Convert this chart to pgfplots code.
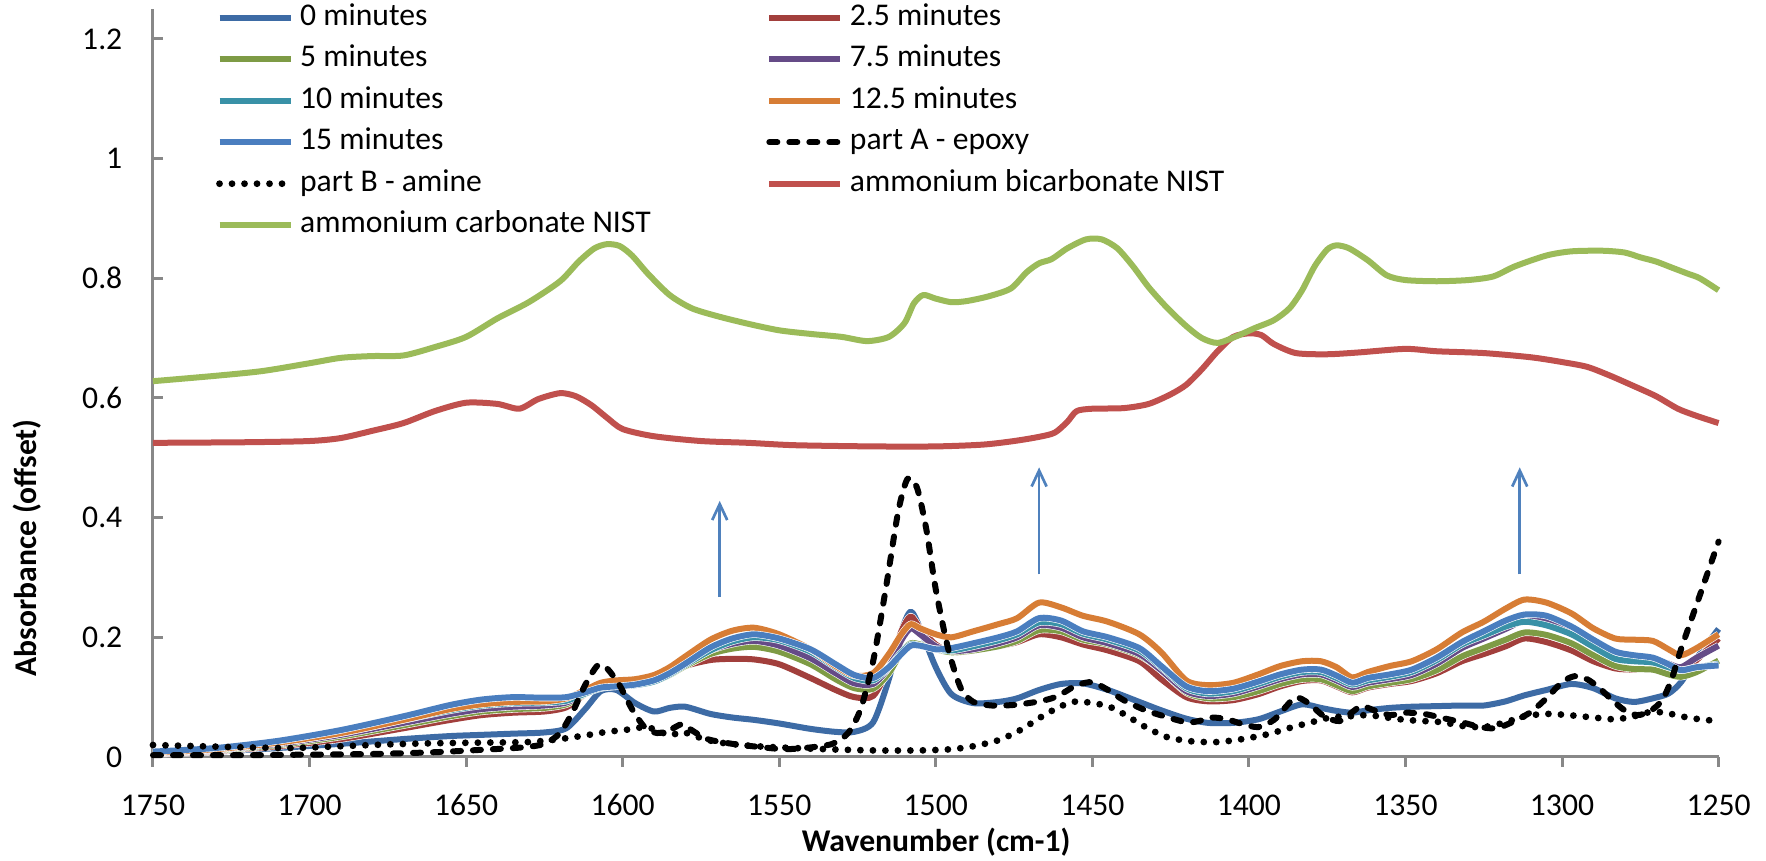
\documentclass[border=0pt]{standalone}
\usepackage{fontspec}
\setmainfont{Carlito}
\usepackage{pgfplots}
\usepackage{pgfplotstable}
\pgfplotsset{compat=1.18}
\usetikzlibrary{arrows.meta}

\definecolor{cT0}{HTML}{3D6BA5}
\definecolor{cT25}{HTML}{A23F3C}
\definecolor{cT5}{HTML}{7E9B45}
\definecolor{cT75}{HTML}{654B87}
\definecolor{cT10}{HTML}{3991A7}
\definecolor{cT125}{HTML}{D77D35}
\definecolor{cT15}{HTML}{4A7EBF}
\definecolor{cBicarb}{HTML}{C0504D}
\definecolor{cCarb}{HTML}{9BBB59}
\definecolor{axisgray}{HTML}{888888}
\definecolor{arrowblue}{HTML}{4F81BD}

% cure series: wavenumber, absorbance after 0 ... 15 minutes
\pgfplotstableread{
wn    t0    t25   t5    t75   t10   t125  t15
1750  .005  .005  .006  .006  .007  .007  .009
1730  .009  .010  .011  .012  .013  .013  .015
1710  .015  .018  .020  .022  .024  .024  .027
1690  .022  .030  .034  .037  .040  .040  .045
1670  .030  .048  .053  .057  .062  .062  .068
1655  .035  .062  .068  .072  .078  .080  .087
1645  .037  .070  .076  .080  .086  .088  .096
1635  .039  .074  .080  .084  .090  .092  .100
1625  .041  .076  .082  .086  .091  .093  .099
1618  .048  .083  .088  .091  .094  .098  .100
1612  .080  .105  .105  .106  .106  .112  .108
1607  .110  .122  .118  .117  .115  .124  .116
1602  .112  .126  .121  .121  .118  .128  .118
1596  .090  .124  .121  .122  .120  .130  .121
1590  .076  .127  .126  .128  .126  .137  .128
1585  .082  .138  .137  .140  .138  .150  .140
1580  .084  .152  .152  .156  .154  .168  .156
1572  .072  .162  .172  .178  .178  .196  .183
1565  .066  .164  .181  .189  .193  .211  .198
1558  .062  .163  .184  .194  .200  .216  .205
1550  .056  .155  .176  .186  .195  .205  .198
1540  .047  .132  .155  .165  .176  .180  .180
1532  .042  .112  .130  .140  .150  .152  .155
1526  .042  .100  .115  .123  .132  .136  .137
1520  .058  .102  .114  .122  .128  .140  .132
1515  .130  .150  .140  .150  .150  .172  .150
1511  .210  .210  .175  .195  .175  .205  .172
1508  .243  .235  .190  .215  .188  .222  .186
1505  .215  .215  .188  .205  .186  .215  .186
1500  .150  .188  .180  .185  .180  .205  .180
1495  .105  .175  .175  .177  .178  .200  .182
1488  .090  .178  .178  .180  .185  .210  .190
1480  .092  .185  .185  .190  .195  .222  .200
1474  .098  .192  .194  .200  .205  .232  .210
1467  .112  .205  .212  .220  .225  .258  .232
1460  .122  .200  .210  .216  .222  .250  .228
1453  .123  .188  .196  .200  .206  .236  .210
1445  .112  .178  .188  .190  .196  .226  .200
1435  .092  .160  .170  .172  .178  .205  .182
1428  .078  .130  .145  .145  .150  .175  .152
1420  .064  .100  .108  .110  .115  .128  .118
1413  .057  .093  .098  .102  .106  .120  .110
1405  .057  .095  .100  .106  .110  .124  .114
1397  .063  .105  .110  .118  .122  .138  .126
1390  .076  .118  .122  .130  .134  .152  .138
1383  .088  .127  .130  .138  .142  .160  .146
1377  .082  .128  .130  .138  .142  .160  .146
1372  .077  .118  .120  .128  .132  .150  .136
1367  .074  .108  .110  .117  .121  .133  .124
1362  .078  .116  .118  .124  .128  .142  .132
1355  .082  .122  .124  .130  .134  .152  .138
1348  .084  .127  .130  .137  .142  .160  .146
1340  .085  .140  .145  .156  .162  .180  .166
1332  .086  .160  .168  .182  .188  .208  .192
1325  .086  .172  .182  .198  .203  .226  .210
1318  .093  .185  .196  .214  .218  .248  .228
1312  .103  .198  .208  .228  .226  .263  .238
1305  .112  .192  .204  .226  .220  .258  .236
1297  .122  .178  .190  .212  .205  .240  .218
1290  .115  .160  .170  .192  .184  .215  .196
1283  .098  .148  .152  .172  .164  .198  .176
1277  .092  .146  .147  .166  .160  .196  .170
1271  .098  .146  .146  .164  .158  .194  .166
1266  .106  .140  .138  .156  .150  .180  .155
1262  .125  .140  .134  .150  .145  .170  .145
1257  .165  .162  .142  .166  .150  .182  .150
1250  .214  .198  .161  .186  .155  .205  .153
}\cureTable

% part A - epoxy
\pgfplotstableread{
wn y
1750 .003
1720 .003
1700 .004
1680 .005
1660 .008
1645 .012
1632 .016
1625 .022
1620 .040
1616 .075
1612 .120
1608 .153
1605 .148
1601 .120
1597 .080
1593 .050
1589 .040
1585 .045
1581 .055
1578 .045
1573 .030
1565 .022
1555 .016
1548 .013
1540 .016
1533 .022
1528 .040
1524 .080
1520 .160
1516 .280
1512 .410
1509 .465
1506 .450
1503 .380
1500 .280
1496 .180
1492 .115
1488 .092
1482 .086
1475 .087
1468 .092
1463 .098
1459 .108
1455 .120
1450 .125
1445 .112
1440 .095
1433 .078
1427 .068
1420 .058
1416 .060
1412 .066
1407 .063
1402 .055
1397 .050
1392 .062
1388 .085
1385 .100
1381 .090
1376 .068
1371 .060
1367 .075
1364 .085
1360 .078
1355 .070
1350 .074
1344 .072
1338 .065
1332 .058
1326 .050
1321 .048
1316 .058
1310 .075
1305 .098
1300 .125
1296 .135
1292 .130
1288 .115
1284 .095
1280 .078
1276 .070
1272 .076
1268 .095
1265 .130
1262 .180
1258 .240
1254 .300
1250 .360
}\epoxyTable

% part B - amine
\pgfplotstableread{
wn y
1750 .020
1735 .018
1720 .016
1705 .015
1690 .018
1675 .021
1660 .023
1645 .024
1630 .025
1620 .030
1612 .036
1605 .042
1598 .046
1593 .050
1589 .045
1585 .036
1581 .042
1577 .035
1570 .025
1560 .019
1550 .016
1535 .013
1520 .011
1505 .011
1495 .013
1488 .018
1480 .028
1473 .045
1466 .068
1460 .085
1455 .093
1450 .090
1445 .085
1440 .072
1433 .050
1426 .033
1418 .026
1410 .025
1402 .030
1394 .038
1386 .050
1380 .058
1374 .066
1368 .068
1362 .070
1356 .066
1350 .062
1344 .060
1338 .058
1332 .052
1325 .050
1318 .058
1312 .068
1305 .072
1298 .070
1290 .066
1283 .063
1277 .068
1272 .075
1267 .074
1262 .068
1256 .063
1250 .060
}\amineTable

% ammonium bicarbonate reference spectrum
\pgfplotstableread{
wn y
1750 .525
1720 .526
1700 .528
1690 .533
1680 .545
1670 .558
1660 .578
1650 .592
1640 .590
1633 .582
1627 .598
1620 .608
1615 .603
1610 .588
1605 .567
1600 .548
1590 .536
1575 .528
1560 .525
1545 .521
1520 .519
1500 .519
1485 .522
1475 .528
1467 .535
1462 .542
1458 .560
1455 .578
1450 .582
1440 .583
1432 .590
1425 .606
1420 .622
1415 .648
1410 .678
1405 .702
1400 .708
1396 .705
1392 .690
1385 .675
1375 .673
1365 .676
1350 .682
1340 .678
1325 .675
1310 .668
1300 .660
1292 .652
1285 .638
1278 .622
1270 .603
1263 .582
1257 .570
1250 .558
}\bicarbTable

% ammonium carbonate reference spectrum
\pgfplotstableread{
wn y
1750 .628
1730 .637
1715 .645
1700 .658
1690 .667
1680 .670
1670 .671
1660 .685
1650 .702
1640 .733
1630 .760
1620 .795
1614 .828
1609 .850
1605 .857
1601 .854
1597 .838
1592 .808
1585 .772
1578 .750
1570 .737
1560 .724
1550 .713
1540 .707
1530 .702
1522 .695
1515 .702
1510 .725
1507 .758
1504 .772
1500 .766
1495 .760
1490 .762
1483 .770
1476 .783
1471 .810
1467 .825
1463 .832
1458 .850
1452 .865
1447 .865
1442 .850
1437 .820
1432 .785
1426 .750
1420 .720
1415 .700
1410 .692
1404 .703
1398 .717
1392 .730
1387 .750
1383 .780
1379 .820
1375 .848
1372 .855
1368 .850
1362 .830
1356 .805
1350 .797
1340 .795
1330 .797
1322 .803
1315 .820
1305 .838
1297 .845
1287 .846
1280 .843
1275 .835
1270 .828
1265 .818
1260 .808
1256 .800
1250 .780
}\carbTable

\begin{document}
\fontsize{9pt}{11pt}\selectfont
\begin{tikzpicture}
\useasboundingbox (0,0) rectangle (176.6mm,86.1mm);
\begin{axis}[
  at={(15.3mm,10.4mm)}, anchor=south west,
  scale only axis,
  width=156.56mm, height=74.8mm,
  xmin=1250, xmax=1750, x dir=reverse,
  ymin=0, ymax=1.25,
  axis x line*=bottom, axis y line*=left,
  axis line style={draw=axisgray, line width=0.3mm},
  xtick={1250,1300,1350,1400,1450,1500,1550,1600,1650,1700,1750},
  ytick={0,0.2,0.4,0.6,0.8,1,1.2},
  yticklabels={0,0.2,0.4,0.6,0.8,1,1.2},
  xticklabels={1250,1300,1350,1400,1450,1500,1550,1600,1650,1700,1750},
  xtick align=outside, ytick align=inside,
  major tick length=1mm,
  tick style={draw=axisgray, line width=0.3mm},
  every tick label/.style={font=\fontsize{9pt}{11pt}\selectfont, text=black},
  xticklabel style={anchor=center, yshift=-3.8mm, inner sep=0pt},
  yticklabel style={anchor=east, xshift=-3mm, inner sep=0pt},
  xlabel={\bfseries Wavenumber (cm-1)},
  ylabel={\bfseries Absorbance (offset)},
  xlabel style={at={(axis description cs:0.5003,-0.1136)}, anchor=center, font=\fontsize{9pt}{11pt}\selectfont},
  ylabel style={at={(axis description cs:-0.0805,0.2794)}, anchor=center, font=\fontsize{9pt}{11pt}\selectfont},
  clip=false,
  legend columns=2,
  legend cell align=left,
  legend image code/.code={\draw[#1] (0mm,0mm) -- (7.1mm,0mm);},
  legend style={
    at={(axis description cs:0.0402,1.0074)}, anchor=north west,
    draw=none, fill=none, inner sep=0pt, outer sep=0pt,
    font=\fontsize{9pt}{11pt}\selectfont,
    nodes={inner xsep=0.6mm, inner ysep=0pt, text height=2.2mm, text depth=0.65mm},
    row sep=1.3mm, column sep=0pt,
    /tikz/every even column/.append style={column sep=10.9mm},
  },
  every axis plot/.append style={line width=0.6mm, line join=round, smooth, tension=0.45},
  spectrum/.style={preaction={draw=white, line width=0.72mm}},
]
\addplot[cT0, spectrum]   table[x=wn, y=t0]   {\cureTable};
\addlegendentry{0 minutes}
\addplot[cT25, spectrum]  table[x=wn, y=t25]  {\cureTable};
\addlegendentry{2.5 minutes}
\addplot[cT5, spectrum]   table[x=wn, y=t5]   {\cureTable};
\addlegendentry{5 minutes}
\addplot[cT75, spectrum]  table[x=wn, y=t75]  {\cureTable};
\addlegendentry{7.5 minutes}
\addplot[cT10, spectrum]  table[x=wn, y=t10]  {\cureTable};
\addlegendentry{10 minutes}
\addplot[cT125, spectrum] table[x=wn, y=t125] {\cureTable};
\addlegendentry{12.5 minutes}
\addplot[cT15, spectrum]  table[x=wn, y=t15]  {\cureTable};
\addlegendentry{15 minutes}
\addplot[black, line cap=round, dash pattern=on 0.8mm off 1.2mm] table[x=wn, y=y] {\epoxyTable};
\addlegendentry{part A - epoxy}
\addplot[black, line cap=round, line width=0.68mm, dash pattern=on 0pt off 1.25mm] table[x=wn, y=y] {\amineTable};
\addlegendentry{part B - amine}
\addplot[cBicarb] table[x=wn, y=y] {\bicarbTable};
\addlegendentry{ammonium bicarbonate NIST}
\addplot[cCarb] table[x=wn, y=y] {\carbTable};
\addlegendentry{ammonium carbonate NIST}

% arrows marking the growing bands
\draw[arrowblue, line width=0.27mm, -{Straight Barb[length=1.6mm, width=1.5mm]}]
  (axis cs:1569,0.267) -- (axis cs:1569,0.428);
\draw[arrowblue, line width=0.27mm, -{Straight Barb[length=1.6mm, width=1.5mm]}]
  (axis cs:1467,0.305) -- (axis cs:1467,0.484);
\draw[arrowblue, line width=0.27mm, -{Straight Barb[length=1.6mm, width=1.5mm]}]
  (axis cs:1313.5,0.305) -- (axis cs:1313.5,0.484);
\end{axis}
\end{tikzpicture}
\end{document}
